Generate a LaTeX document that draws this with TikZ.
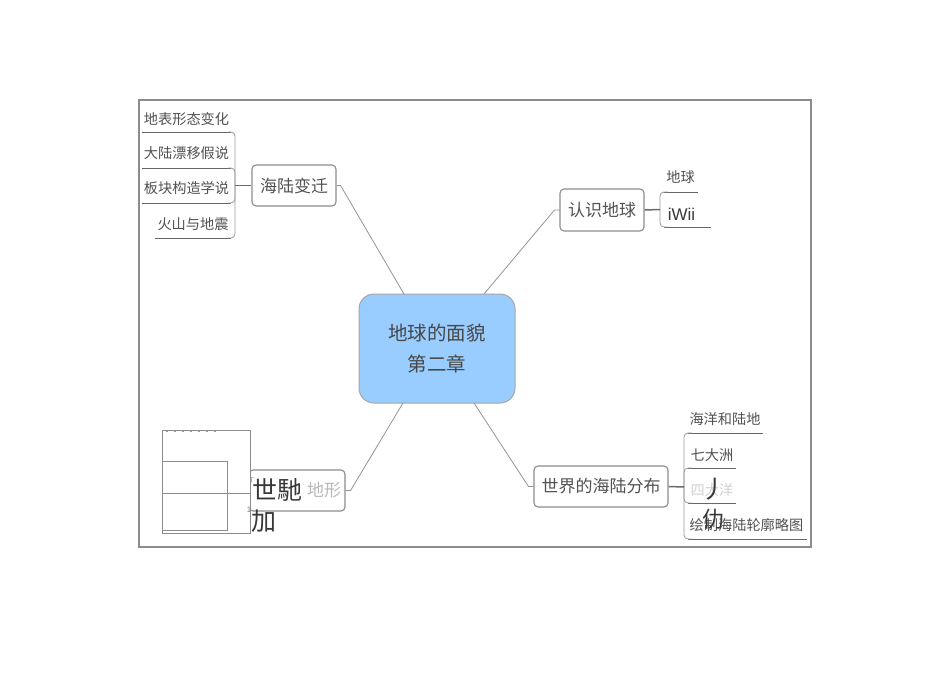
\documentclass[tikz,border=0pt]{standalone}
\usepackage{fontspec}
\setmainfont{Liberation Sans}
\newfontfamily\cjk{Noto Sans CJK SC}
\definecolor{rootblue}{HTML}{99CCFF}
\tikzset{
  px/.style={x=1pt,y=-1pt},
  topicbox/.style={draw=black!45,line width=1.1pt,rounded corners=4pt,fill=white,inner sep=0pt,text=black!68,font=\cjk\fontsize{17}{17}\selectfont},
  leaf/.style={inner sep=0pt,text=black!68,font=\cjk\fontsize{14.2}{14.2}\selectfont},
  underl/.style={draw=black!60,line width=1pt},
  brace/.style={draw=black!40,line width=0.8pt,rounded corners=4pt},
  conn/.style={draw=black!42,line width=0.8pt},
  stub/.style={draw=black!58,line width=1.5pt},
  overlay/.style={inner sep=0pt,text=black!78,font=\cjk\fontsize{25}{25}\selectfont},
  thinbox/.style={draw=black!45,line width=0.6pt}
}
\begin{document}
\begin{tikzpicture}[px]
\useasboundingbox (0,0) rectangle (950,680);
\fill[white] (0,0) rectangle (950,680);
% frame
\draw[draw=black!45,line width=1.5pt] (139,100) rectangle (811,547);
% central topic
\node[draw=black!35,line width=1pt,fill=rootblue,rounded corners=15pt,minimum width=156pt,minimum height=109pt,inner sep=0pt,text=black!72,align=center,font=\cjk\fontsize{19.5}{31}\selectfont] (root) at (437,348.5) {地球的面貌\\第二章};
% topics
\node[topicbox,minimum width=84pt,minimum height=41pt] (hai) at (294,185.5) {海陆变迁};
\node[topicbox,minimum width=84pt,minimum height=42pt] (ren) at (602,210) {认识地球};
\node[topicbox,minimum width=134pt,minimum height=41pt] (shi) at (601,486.5) {世界的海陆分布};
\node[topicbox,minimum width=96pt,minimum height=41pt,text=black!28] (xing) at (297,490.5) {\hspace{54pt}地形};
% connectors to root
\coordinate (ra) at (404,294);
\coordinate (rb) at (484,294);
\coordinate (rc) at (474,403);
\coordinate (rd) at (403,403);
\draw[conn] (hai.east) -- ++(4,0) -- (ra);
\draw[conn] (ren.west) -- ++(-5,0) -- (rb);
\draw[conn] (shi.west) -- ++(-5,0) -- (rc);
\draw[conn] (xing.east) -- ++(5,0) -- (rd);
% left leaves
\node[leaf] (a1) at (186.5,119) {地表形态变化};
\node[leaf] (a2) at (186.5,153) {大陆漂移假说};
\node[leaf] (a3) at (186.5,188) {板块构造学说};
\node[leaf] (a4) at (193,224) {火山与地震};
\coordinate (au1) at (142,132); \coordinate (au2) at (142,168); \coordinate (au3) at (142,203); \coordinate (au4) at (155,238);
\draw[underl] (au1) -- (231,132);
\draw[underl] (au2) -- (231,168);
\draw[underl] (au3) -- (231,203);
\draw[underl] (au4) -- (231,238);
\draw[brace] (228,132) -- (235,132) -- (235,238) -- (228,238);
\draw[brace] (228,168) -- (235,168) -- (235,203) -- (228,203);
\draw[stub] (235,185.5) -- (hai.west);
% top right leaves
\node[leaf] (b1) at (680.5,177) {地球};
\coordinate (bu1) at (698,192); \coordinate (bu2) at (711,227);
\draw[underl] (664,192) -- (bu1);
\draw[underl] (664,227) -- (bu2);
\draw[brace] (668,192) -- (660,192) -- (660,227) -- (668,227);
\draw[stub] (ren.east) -- (660,209.5);
\node[inner sep=0pt,text=black!78,font=\fontsize{17}{17}\selectfont] (b2) at (681.5,214) {iWii};
% bottom right leaves
\node[leaf] (c1) at (725,419) {海洋和陆地};
\node[leaf] (c2) at (712,455) {七大洲};
\node[leaf,text=black!18] (c3) at (712,490) {四大洋};
\node[leaf] (c4) at (746.5,525) {绘制海陆轮廓略图};
\coordinate (cu1) at (763,433); \coordinate (cu2) at (736,468); \coordinate (cu3) at (736,503); \coordinate (cu4) at (807,539);
\draw[underl] (688,433) -- (cu1);
\draw[underl] (688,468) -- (cu2);
\draw[underl] (688,503) -- (cu3);
\draw[underl] (688,539) -- (cu4);
\draw[brace] (692,433) -- (684,433) -- (684,539) -- (692,539);
\draw[brace] (692,468) -- (684,468) -- (684,503) -- (692,503);
\draw[stub] (shi.east) -- (684,487);
\node[overlay] (o3) at (714,489) {丿};
\node[overlay,font=\cjk\fontsize{22}{22}\selectfont] (o4) at (713,519) {仂};
% white patch at lower left
\draw[thinbox,fill=white] (162,430) rectangle (250,533);
\draw[thinbox] (162,461) rectangle (227,530);
\draw[thinbox] (162,493) -- (250,493);
\draw[draw=black!40,line width=0.8pt,dash pattern=on 2pt off 6pt] (166,431) -- (220,431);
\node[overlay] (o1) at (277.5,490) {世馳};
\node[overlay] (o2) at (264,521) {加};
\node[inner sep=0pt,text=black!50,font=\cjk\fontsize{8}{8}\selectfont] (m1) at (250,481) {「};
\node[inner sep=0pt,text=black!50,font=\fontsize{8}{8}\selectfont] (m2) at (249,510) {1};
\end{tikzpicture}
\end{document}
